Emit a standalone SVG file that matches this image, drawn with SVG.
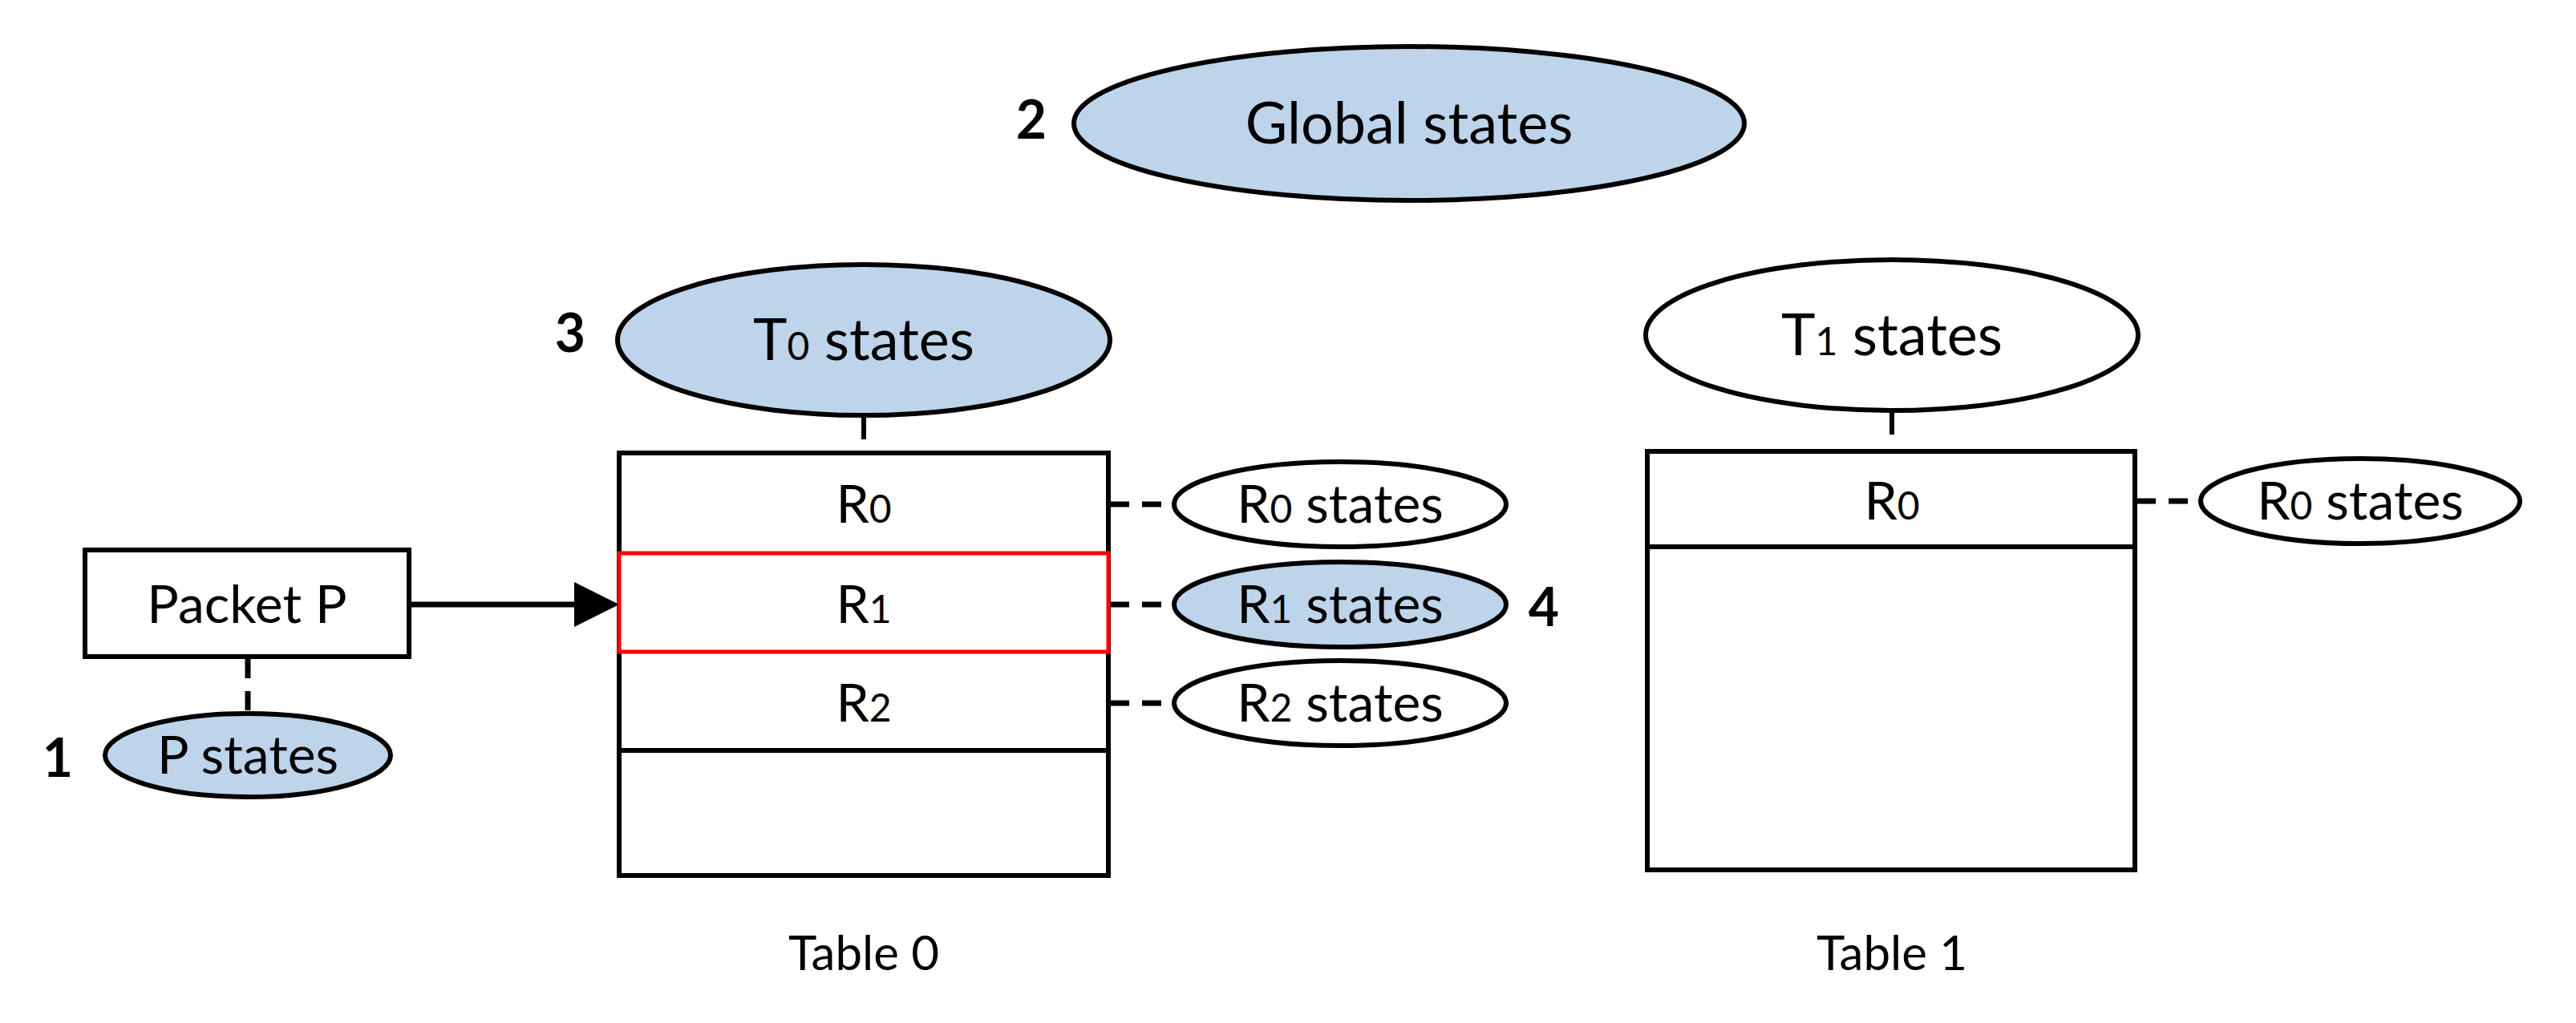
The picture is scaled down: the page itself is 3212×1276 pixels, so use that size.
<svg xmlns="http://www.w3.org/2000/svg" width="3212" height="1276" viewBox="0 0 3212 1276">
<style>
.s{stroke:#000;stroke-width:6;fill:#fff}
.b{fill:#bdd4ea}
.t{font-family:Lato,"Liberation Sans",sans-serif;font-size:66px;text-anchor:middle;fill:#000}
.g{font-size:72px}
.n{font-family:Lato,"Liberation Sans",sans-serif;font-size:66px;font-weight:bold;text-anchor:middle}
.sub{font-size:48px}
.d{stroke:#000;stroke-width:7;stroke-dasharray:24,16;fill:none}
</style>
<g id="connectors">
<line x1="1077" y1="518" x2="1077" y2="548" stroke="#000" stroke-width="6"/>
<line x1="2359" y1="512" x2="2359" y2="542" stroke="#000" stroke-width="6"/>
<line x1="510" y1="754" x2="716" y2="754" stroke="#000" stroke-width="7"/>
<path d="M716,726 L772,754 L716,782 z"/>
<line class="d" x1="309" y1="822" x2="309" y2="890"/>
<line class="d" x1="1384" y1="629" x2="1464" y2="629"/>
<line class="d" x1="1384" y1="754" x2="1464" y2="754"/>
<line class="d" x1="1384" y1="877" x2="1464" y2="877"/>
<line class="d" x1="2664" y1="625" x2="2744" y2="625"/>
</g>
<g id="global"><ellipse class="s b" cx="1757" cy="154" rx="418" ry="96"/><text class="t g" x="1757" y="179">Global states</text><text class="n" x="1286" y="173">2</text></g>
<g id="t0states"><ellipse class="s b" cx="1077" cy="424" rx="307" ry="94"/><text class="t g" x="1077" y="449">T<tspan class="sub">0</tspan> states</text><text class="n" x="711" y="439">3</text></g>
<g id="t1states"><ellipse class="s" cx="2359" cy="418" rx="307" ry="94"/><text class="t g" x="2359" y="443">T<tspan class="sub">1</tspan> states</text></g>
<g id="table0">
<rect class="s" x="772" y="565" width="610" height="527"/>
<line x1="772" y1="936" x2="1382" y2="936" stroke="#000" stroke-width="6"/>
<text class="t" x="1077" y="652">R<tspan class="sub">0</tspan></text>
<text class="t" x="1077" y="900">R<tspan class="sub">2</tspan></text>
<text class="t" x="1077" y="1210" style="font-size:60px">Table 0</text>
</g>
<g id="r1"><rect x="772" y="690" width="610" height="123" fill="#fff" stroke="#f00" stroke-width="5"/><text class="t" x="1077" y="777">R<tspan class="sub">1</tspan></text></g>
<g id="table1">
<rect class="s" x="2054" y="563" width="608" height="522"/>
<line x1="2054" y1="682" x2="2662" y2="682" stroke="#000" stroke-width="6"/>
<text class="t" x="2359" y="648">R<tspan class="sub">0</tspan></text>
<text class="t" x="2359" y="1210" style="font-size:60px">Table 1</text>
</g>
<g id="packet"><rect class="s" x="106" y="686" width="404" height="133"/><text class="t" x="308" y="777">Packet P</text></g>
<g id="pstates"><ellipse class="s b" cx="309" cy="942" rx="178" ry="52"/><text class="t" x="309" y="965">P states</text><text class="n" x="72" y="969">1</text></g>
<g id="r0s"><ellipse class="s" cx="1671" cy="629" rx="207" ry="53"/><text class="t" x="1671" y="652">R<tspan class="sub">0</tspan> states</text></g>
<g id="r1s"><ellipse class="s b" cx="1671" cy="754" rx="207" ry="53"/><text class="t" x="1671" y="777">R<tspan class="sub">1</tspan> states</text><text class="n" x="1925" y="781">4</text></g>
<g id="r2s"><ellipse class="s" cx="1671" cy="877" rx="207" ry="53"/><text class="t" x="1671" y="900">R<tspan class="sub">2</tspan> states</text></g>
<g id="r0s1"><ellipse class="s" cx="2943" cy="625" rx="199" ry="53"/><text class="t" x="2943" y="648">R<tspan class="sub">0</tspan> states</text></g>
</svg>
